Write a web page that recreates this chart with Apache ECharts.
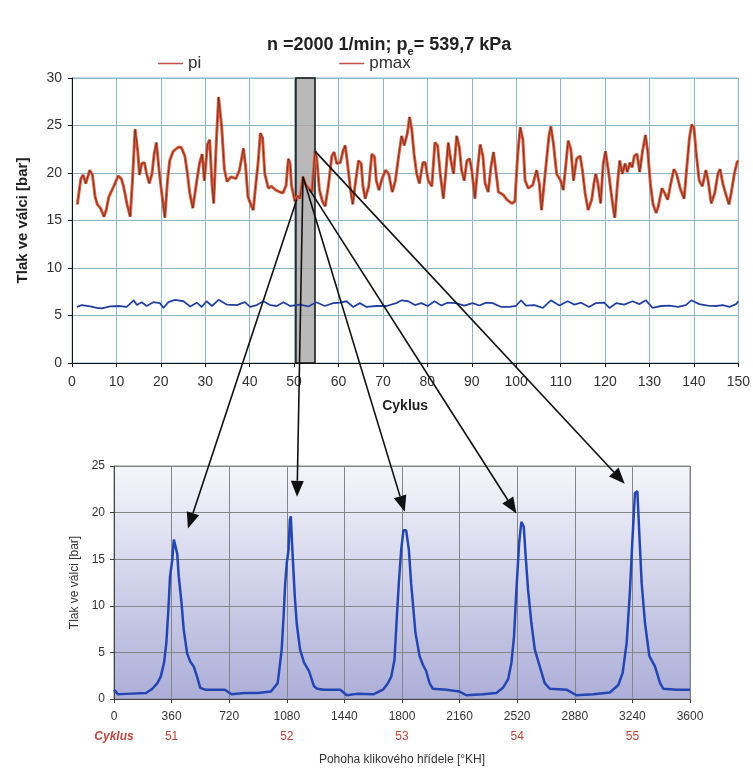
<!DOCTYPE html>
<html>
<head>
<meta charset="utf-8">
<script src="https://cdn.jsdelivr.net/npm/echarts@6/dist/echarts.min.js"></script>
<style>
  html, body { margin: 0; padding: 0; background: #fff; }
  #chart { width: 753px; height: 768px; }
</style>
</head>
<body>
<div id="chart"></div>
<script>
'use strict';

// ---- horní graf: tlak po cyklech ----
const pmaxPoints = [
    [1.2, 16.7], [2, 19.4], [2.5, 19.8], [3.1, 18.9], [3.5, 18.7], [4, 20.3], [4.6, 19.8], [5.2, 17.5],
    [5.7, 16.7], [6.4, 16.3], [7.2, 15.4], [7.7, 16.1], [8.3, 17.5], [9.4, 18.6], [10.4, 19.7], [11.1, 19.4],
    [11.6, 18.6], [12.4, 16.7], [13.1, 15.4], [13.6, 19.1], [14.2, 24.6], [14.8, 22.3], [15.2, 19.8], [15.7, 21],
    [16.3, 21.1], [16.8, 19.9], [17.4, 18.9], [18, 19.9], [18.5, 22], [19, 23.2], [19.6, 20.3], [20.2, 17.9],
    [20.9, 15.3], [21.5, 19.2], [22, 21.3], [22.8, 22.3], [23.9, 22.7], [24.6, 22.7], [25.4, 21.8], [26, 19.9],
    [26.5, 17.9], [27.2, 16.3], [28, 18.9], [28.7, 21], [29.3, 22], [29.8, 19.2], [30.5, 23], [31, 23.5],
    [31.5, 18.9], [31.9, 16.8], [32.5, 23.4], [33, 28], [33.4, 27.9], [33.7, 24.8], [34.3, 20.4], [34.9, 19.1],
    [35.8, 19.6], [36.9, 19.4], [37.7, 20.3], [38.6, 22.6], [39.1, 20.6], [39.6, 17.5], [40.4, 16.5], [40.8, 16.1],
    [41.4, 18.9], [41.9, 21.1], [42.4, 24.2], [42.9, 23.7], [43.4, 19.9], [44.2, 18.4], [44.9, 18.6], [45.9, 18.2],
    [46.8, 18], [47.5, 17.9], [48.2, 18.7], [48.7, 21.5], [49.1, 21], [49.4, 18.7], [50.2, 17], [50.8, 17.6],
    [51.3, 17.3], [52, 19.6], [52.6, 18.8], [53.4, 18.3], [54, 18], [54.7, 22.3], [55.1, 21.5], [55.7, 18.2],
    [56.4, 17], [57, 16.5], [57.7, 18.6], [58.5, 21.8], [59, 22.2], [59.6, 21], [60.4, 21.1], [61, 22.3],
    [61.5, 22.9], [62, 21.1], [62.6, 18.6], [63.2, 16.7], [63.7, 18.6], [64.5, 21.3], [65.1, 21], [65.5, 18.6],
    [66, 17.3], [66.8, 18.6], [67.5, 22], [68.1, 21.7], [68.5, 19.2], [69.1, 18.2], [69.8, 19.4], [70.6, 20.3],
    [71.3, 19.9], [72.1, 18], [72.8, 19.2], [73.6, 22], [74.2, 23.9], [74.8, 22.9], [75.5, 24.2], [76, 25.9],
    [76.5, 24.5], [77, 22], [77.6, 19.9], [78.2, 18.9], [79, 21.1], [79.5, 21.1], [80.2, 19.2], [81, 18.6],
    [81.7, 23.2], [82.3, 22.9], [82.9, 19.9], [83.6, 17.3], [84.2, 20.3], [84.7, 23.2], [85.3, 21.3], [85.9, 19.9],
    [86.6, 23.9], [87.2, 22.7], [87.7, 20.3], [88.3, 19.2], [88.9, 21.3], [89.5, 21.5], [90, 20.3], [90.7, 17.3],
    [91.3, 20.4], [91.9, 23], [92.5, 21.8], [93, 18.9], [93.7, 18], [94.3, 20.6], [94.9, 22.2], [95.5, 19.9],
    [96, 18], [97.1, 17.7], [97.9, 17.2], [99, 16.8], [99.7, 17], [100.3, 21.7], [100.9, 24.8], [101.5, 23.5],
    [102, 19.2], [102.7, 18.4], [103.7, 18.7], [104.6, 20.3], [105.2, 18.9], [105.7, 16.1], [106.3, 18.9], [106.9, 21.7],
    [107.4, 24], [107.8, 24.9], [108.4, 23], [109.1, 19.9], [110, 19.2], [110.6, 18.2], [111.2, 21], [111.7, 23.4],
    [112.3, 22.5], [112.9, 19.2], [113.6, 21.5], [114.4, 21.8], [114.9, 20.3], [115.5, 17.9], [116.2, 16.1], [117, 17.2],
    [117.5, 18.9], [117.9, 19.9], [118.4, 18.9], [119, 16.8], [119.6, 21], [120.1, 22.3], [120.7, 20.4], [121.3, 18.2],
    [121.9, 16.1], [122.2, 15.3], [122.8, 18.9], [123.3, 21.3], [123.9, 19.9], [124.5, 21], [125, 20.1], [125.6, 21.1],
    [126.1, 20.6], [126.6, 21.8], [127.2, 22], [127.8, 20.1], [128.4, 22.2], [129.1, 24], [129.6, 22.3], [130.2, 18.9],
    [130.8, 16.7], [131.5, 15.8], [132, 16.5], [132.8, 18.4], [133.4, 17.9], [134.1, 17.2], [134.8, 18.9], [135.5, 20.4],
    [136.1, 19.9], [136.9, 18.4], [137.8, 17.3], [138.4, 20.6], [139, 23.7], [139.5, 25.1], [140, 24.8], [140.6, 21.7],
    [141.2, 19.2], [141.9, 18.6], [142.7, 20.3], [143.2, 19.2], [143.9, 16.8], [144.7, 17.9], [145.4, 19.9], [145.9, 20.4],
    [146.5, 18.9], [147.1, 17.9], [147.9, 16.7], [148.4, 17.9], [149.1, 19.9], [149.7, 21.1], [150, 21.3]
];

const piPoints = [
    [1.1, 5.9], [2.2, 6.1], [4.1, 5.95], [5.6, 5.8], [6.7, 5.75], [8.6, 5.95], [10.5, 6.0], [12.3, 5.9],
    [13.9, 6.6], [14.6, 6.1], [15.7, 6.4], [16.8, 6.0], [18.3, 6.4], [19.8, 6.3], [20.6, 5.8], [21.7, 6.4],
    [23.2, 6.65], [25.1, 6.5], [26.6, 5.95], [28.1, 6.35], [29.2, 5.9], [30.3, 6.5], [31.5, 6.0], [33, 6.65],
    [34.8, 6.15], [37.1, 6.1], [38.9, 6.4], [40.1, 5.9], [41.6, 6.1], [43.1, 6.5], [44.6, 6.1], [46.1, 6.0],
    [47.6, 6.4], [49.1, 6.0], [51.3, 6.15], [53.2, 5.95], [55, 6.4], [56.9, 6.0], [58.8, 6.3], [60.3, 6.35],
    [61.8, 6.5], [63.3, 5.9], [64.8, 6.3], [66.3, 5.9], [68.5, 6.0], [70.8, 6.0], [73, 6.3], [74.2, 6.6],
    [75.7, 6.5], [77.2, 6.1], [78.6, 6.3], [80.1, 6.0], [81.6, 6.5], [83.1, 6.05], [84.6, 6.35], [86.4, 6.3],
    [88.3, 6.05], [90.2, 6.3], [91.7, 6.05], [93.2, 6.35], [94.7, 6.3], [96.6, 5.9], [98.4, 5.9], [99.9, 6.0],
    [101.1, 6.6], [102.2, 6.05], [104.1, 6.1], [106, 5.8], [107.8, 6.6], [109.7, 6.05], [111.6, 6.5], [113.1, 6.15],
    [114.6, 6.35], [116.4, 5.9], [117.9, 6.3], [119.8, 6.35], [121, 5.8], [122.5, 6.3], [124.3, 6.15], [126.2, 6.5],
    [127.7, 6.2], [129.2, 6.6], [130.7, 5.8], [132.6, 6.0], [134.5, 6.05], [136.4, 5.9], [138.2, 6.1], [139.4, 6.6],
    [141.2, 6.2], [143.1, 6.05], [145, 6.0], [146.5, 6.1], [148, 5.9], [149.5, 6.2], [150, 6.5]
];

// vyznačený úsek (cykly 51 - 55)
const zoomRange = [50.4, 54.7];

// ---- dolní graf: průběh tlaku podle natočení KH ----
const cycle51 = [
    [0, 1.0], [25, 0.5], [76, 0.55], [200, 0.65], [240, 1.1], [271, 1.7], [292, 2.4], [313, 3.9], [327, 6.0],
    [340, 9.6], [350, 13.1], [364, 14.9], [374, 17.1], [385, 17.2], [395, 15.6], [405, 13.1], [422, 10.3],
    [436, 7.4], [457, 4.9], [477, 4.0], [498, 3.5], [519, 2.4], [539, 1.2], [570, 1.0], [632, 1.0], [693, 1.0]
];
const cycle52 = [
    [735, 0.5], [817, 0.65], [899, 0.65], [981, 0.8], [1023, 1.7], [1033, 3.1], [1048, 5.3], [1060, 8.9],
    [1070, 12.4], [1080, 14.6], [1091, 16.0], [1099, 19.2], [1105, 19.6], [1116, 15.6], [1130, 11], [1142, 8.1],
    [1163, 5.3], [1188, 3.9], [1219, 3.0], [1249, 1.4], [1270, 1.1], [1311, 1.0], [1414, 1.0]
];
const cycle53 = [
    [1455, 0.4], [1517, 0.55], [1620, 0.5], [1681, 1.0], [1712, 1.7], [1733, 2.4], [1753, 4.2], [1768, 8.9],
    [1780, 12.4], [1795, 16.0], [1809, 18.1], [1826, 18.1], [1843, 16.0], [1857, 12.4], [1868, 10.3], [1884, 7.1],
    [1910, 4.6], [1930, 3.7], [1951, 3.0], [1972, 1.7], [1993, 1.1], [2076, 1.0], [2160, 0.8]
];
const cycle54 = [
    [2202, 0.4], [2306, 0.5], [2390, 0.65], [2431, 1.2], [2463, 2.1], [2484, 3.9], [2500, 6.7], [2515, 11.7],
    [2532, 16.7], [2546, 19.0], [2561, 18.5], [2573, 15.3], [2588, 11.7], [2609, 8.1], [2630, 5.3], [2661, 3.5],
    [2692, 1.7], [2724, 1.1], [2828, 1.0]
];
const cycle55 = [
    [2891, 0.4], [2995, 0.5], [3099, 0.7], [3152, 1.5], [3179, 2.8], [3204, 6.0], [3225, 11.7], [3239, 16.7],
    [3256, 22.1], [3271, 22.3], [3283, 17.8], [3298, 12.4], [3319, 8.1], [3346, 4.6], [3381, 3.5], [3413, 1.7],
    [3433, 1.1], [3517, 1.0], [3600, 1.0]
];

const cycleAngles = [360, 1080, 1800, 2520, 3240];
const cycleLabels = ['51', '52', '53', '54', '55'];

// šipky: odkud (horní graf) -> kam (dolní graf)
const arrowFrom = [[50.6, 17.2], [52.0, 19.6], [52.0, 19.6], [53.4, 18.3], [54.7, 22.3]];
const arrowTo = [[462, 18.3], [1144, 21.7], [1817, 20.1], [2515, 19.9], [3192, 23.1]];

const FONT = '"Liberation Sans", Arial, sans-serif';
const NARROW = '"Liberation Sans Narrow", "Liberation Sans", Arial, sans-serif';
const topGridColor = '#8fb4c8';
const redBrown = '#b8473c';

let chart = echarts.init(document.getElementById('chart'), null, { renderer: 'canvas' });

let plainNumber = function(v) { return String(v); };

let option = {
    backgroundColor: '#fff',
    animation: false,
    title: {
        text: '{a|n =2000 1/min; p}{s|e}{a|= 539,7 kPa}',
        left: 262,
        top: 27,
        textStyle: {
            rich: {
                a: { fontFamily: FONT, fontSize: 18, fontWeight: 'bold', color: '#222', lineHeight: 22, verticalAlign: 'bottom' },
                s: { fontFamily: FONT, fontSize: 11, fontWeight: 'bold', color: '#222', lineHeight: 18, verticalAlign: 'bottom', padding: [0, 0, -3, 0] }
            }
        }
    },
    legend: {
        left: 158,
        top: 55,
        padding: 0,
        itemGap: 138,
        itemWidth: 25,
        itemHeight: 1.5,
        icon: 'rect',
        textStyle: { fontFamily: NARROW, fontSize: 17, color: '#333' },
        data: [
            { name: 'pi', itemStyle: { color: '#c0504d' } },
            { name: 'pmax', itemStyle: { color: '#c0504d' } }
        ]
    },
    grid: [{
        left: 72, right: 13, top: 78, bottom: 405,
        show: true, borderColor: topGridColor, borderWidth: 1, backgroundColor: '#fff'
    }, {
        left: 114, right: 63, top: 466, bottom: 69,
        show: true, borderColor: '#8a8a8a', borderWidth: 1,
        backgroundColor: new echarts.graphic.LinearGradient(0, 0, 0, 1, [
            { offset: 0, color: '#f5f6fb' },
            { offset: 1, color: '#acaed8' }
        ])
    }],
    xAxis: [{
        gridIndex: 0, type: 'value', min: 0, max: 150, interval: 10,
        name: 'Cyklus', nameLocation: 'middle', nameGap: 36,
        nameTextStyle: { fontFamily: FONT, fontSize: 14, fontWeight: 'bold', color: '#222' },
        axisLine: { lineStyle: { color: '#111', width: 1 } },
        axisTick: { length: 4, lineStyle: { color: '#111' } },
        axisLabel: { fontFamily: FONT, fontSize: 14, color: '#333', margin: 12, formatter: plainNumber },
        splitLine: { lineStyle: { color: topGridColor, width: 1 } }
    }, {
        gridIndex: 1, type: 'value', min: 0, max: 3600, interval: 360,
        name: 'Pohoha klikového hřídele [°KH]', nameLocation: 'middle', nameGap: 55,
        nameTextStyle: { fontFamily: NARROW, fontSize: 12, color: '#333' },
        axisLine: { lineStyle: { color: '#444', width: 1 } },
        axisTick: { length: 4, lineStyle: { color: '#444' } },
        axisLabel: { fontFamily: NARROW, fontSize: 12, color: '#333', margin: 12, formatter: plainNumber },
        splitLine: { lineStyle: { color: '#858585', width: 1 } }
    }, {
        gridIndex: 1, type: 'value', min: 0, max: 3600, interval: 360,
        position: 'bottom', offset: 20,
        axisLine: { show: false }, axisTick: { show: false }, splitLine: { show: false },
        axisLabel: {
            margin: 12,
            fontFamily: NARROW, fontSize: 12, color: redBrown,
            formatter: function(v) {
                if (v === 0) return '{c|Cyklus}';
                let i = cycleAngles.indexOf(v);
                return i >= 0 ? cycleLabels[i] : '';
            },
            rich: {
                c: { fontFamily: FONT, fontSize: 12, fontStyle: 'italic', fontWeight: 'bold', color: redBrown }
            }
        }
    }],
    yAxis: [{
        gridIndex: 0, type: 'value', min: 0, max: 30, interval: 5,
        name: 'Tlak ve válci [bar]', nameLocation: 'middle', nameGap: 42,
        nameTextStyle: { fontFamily: FONT, fontSize: 15, fontWeight: 'bold', color: '#222' },
        axisLine: { show: true, lineStyle: { color: '#111', width: 1 } },
        axisTick: { show: true, length: 4, lineStyle: { color: '#111' } },
        axisLabel: { fontFamily: FONT, fontSize: 14, color: '#333', margin: 10 },
        splitLine: { lineStyle: { color: topGridColor, width: 1 } }
    }, {
        gridIndex: 1, type: 'value', min: 0, max: 25, interval: 5,
        name: 'Tlak ve válci [bar]', nameLocation: 'middle', nameGap: 30,
        nameTextStyle: { fontFamily: NARROW, fontSize: 12, color: '#333' },
        axisLine: { show: true, lineStyle: { color: '#444', width: 1 } },
        axisTick: { show: true, length: 4, lineStyle: { color: '#444' } },
        axisLabel: { fontFamily: NARROW, fontSize: 12, color: '#333', margin: 9 },
        splitLine: { lineStyle: { color: '#858585', width: 1 } }
    }],
    series: [{
        name: 'pi', type: 'line', xAxisIndex: 0, yAxisIndex: 0,
        data: piPoints, showSymbol: false, z: 3,
        lineStyle: { color: '#2f56c4', width: 1.8 }
    }, {
        name: 'pi-obrys', type: 'line', xAxisIndex: 0, yAxisIndex: 0,
        data: piPoints, showSymbol: false, z: 4, silent: true,
        lineStyle: { color: '#1d2466', width: 0.6 }
    }, {
        name: 'pmax', type: 'line', xAxisIndex: 0, yAxisIndex: 0,
        data: pmaxPoints, showSymbol: false, z: 3,
        lineStyle: { color: '#e65c3c', width: 3 }
    }, {
        name: 'pmax-obrys', type: 'line', xAxisIndex: 0, yAxisIndex: 0,
        data: pmaxPoints, showSymbol: false, z: 4, silent: true,
        lineStyle: { color: '#222', width: 0.6 }
    }, {
        name: 'usek', type: 'line', xAxisIndex: 0, yAxisIndex: 0,
        data: [], z: 6, silent: true,
        markArea: {
            silent: true,
            itemStyle: { color: 'rgba(168,168,168,0.8)', borderColor: '#111', borderWidth: 1.5 },
            data: [[{ xAxis: zoomRange[0], yAxis: 0 }, { xAxis: zoomRange[1], yAxis: 30 }]]
        }
    }, {
        name: 'p', type: 'line', xAxisIndex: 1, yAxisIndex: 1,
        data: cycle51.concat(cycle52, cycle53, cycle54, cycle55),
        showSymbol: false, z: 3,
        lineStyle: { color: '#2446b2', width: 2.5 }
    }]
};

chart.setOption(option);

// šipky mezi grafy
let arrows = [];
arrowFrom.forEach(function(from, i) {
    let p0 = chart.convertToPixel({ gridIndex: 0 }, from);
    let p1 = chart.convertToPixel({ gridIndex: 1 }, arrowTo[i]);
    let dx = p1[0] - p0[0], dy = p1[1] - p0[1];
    let len = Math.sqrt(dx * dx + dy * dy);
    let ux = dx / len, uy = dy / len;
    let headLen = 16, headW = 6.5;
    let bx = p1[0] - ux * headLen, by = p1[1] - uy * headLen;
    arrows.push({
        type: 'line', z: 100, silent: true,
        shape: { x1: p0[0], y1: p0[1], x2: bx, y2: by },
        style: { stroke: '#111', lineWidth: 1.6 }
    });
    arrows.push({
        type: 'polygon', z: 100, silent: true,
        shape: { points: [[p1[0], p1[1]], [bx - uy * headW, by + ux * headW], [bx + uy * headW, by - ux * headW]] },
        style: { fill: '#111' }
    });
});
chart.setOption({ graphic: arrows });
</script>
</body>
</html>
